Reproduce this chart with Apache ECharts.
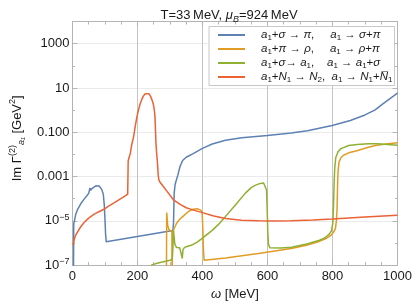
<!DOCTYPE html>
<html><head><meta charset="utf-8">
<script src="https://cdn.jsdelivr.net/npm/echarts@6/dist/echarts.min.js"></script>
<style>html,body{margin:0;padding:0;background:#fff}#c{width:415px;height:306px}</style>
</head><body><div id="c"></div>
<script>
// ---- data (omega [MeV], log10 of Im Gamma [GeV^2]) ----
const seriesNames = ['sigmaPi', 'rhoPi', 'a1Sigma', 'nucleon'];
const seriesColors = ['#5E81B5', '#E19C24', '#8FB032', '#EB6235'];
const blueData = [[3,-8],[4,-5.15],[10,-4.72],[16,-4.48],[26,-4.22],[36,-4.02],[45,-3.86],[50,-3.76],[54,-3.52],[56,-3.62],[62,-3.52],[72,-3.42],[82,-3.43],[90,-3.58],[95,-3.8],[98,-4.3],[100,-4.9],[102,-5.6],[104,-5.95],[106,-6.04],[309,-5.44],[311,-5.1],[313,-3.75],[316,-3.35],[324,-2.95],[331,-2.55],[339,-2.28],[350,-2.13],[370,-1.98],[400,-1.73],[430,-1.53],[471,-1.36],[521,-1.25],[600,-1.15],[673,-1.04],[723,-0.93],[799,-0.70],[855,-0.47],[900,-0.22],[930,0.0],[955,0.28],[980,0.55],[1000,0.77]];
const orangeData = [[289,-8],[290,-4.63],[293,-5.2],[297,-5.4],[302,-5.47],[306,-5.5],[306.5,-8],[307.5,-8],[308,-5.5],[312,-5.38],[320,-5.12],[330,-4.93],[340,-4.8],[355,-4.6],[370,-4.48],[385,-4.46],[395,-4.52],[399,-4.63],[401,-5.3],[403,-6.3],[405,-6.78],[471,-6.68],[572,-6.48],[673,-6.25],[720,-6.1],[754,-5.96],[780,-5.8],[794,-5.67],[803,-5.52],[809,-5.35],[812,-5.0],[814,-4.5],[815.5,-3.5],[817,-2.8],[820,-2.35],[826,-2.15],[834,-2.04],[850,-1.93],[875,-1.84],[905,-1.7],[935,-1.59],[965,-1.53],[1000,-1.48]];
const greenData = [[238,-8],[243,-7.0],[260,-6.92],[280,-6.85],[300,-6.78],[307,-6.73],[309,-6.2],[310.5,-5.4],[312,-5.6],[315,-6.05],[320,-6.2],[330,-6.22],[336,-6.25],[338,-6.7],[340,-6.3],[345,-6.2],[355,-6.15],[370,-6.08],[385,-5.95],[400,-5.78],[431,-5.42],[450,-5.15],[471,-4.8],[502,-4.27],[532,-3.75],[550,-3.5],[562,-3.4],[578,-3.31],[588,-3.29],[594,-3.36],[597,-3.6],[599,-4.4],[601,-5.5],[603,-6.05],[607,-6.22],[613,-6.26],[640,-6.23],[674,-6.19],[724,-6.04],[760,-5.88],[775,-5.79],[790,-5.6],[797,-5.45],[801,-5.1],[803,-4.4],[805,-3.3],[807,-2.6],[810,-2.15],[817,-1.88],[826,-1.74],[850,-1.6],[876,-1.55],[910,-1.52],[937,-1.52],[970,-1.55],[1000,-1.59]];
const redData = [[2,-6.1],[5,-5.85],[10,-5.65],[16,-5.5],[25,-5.28],[36,-5.08],[50,-4.88],[67,-4.7],[80,-4.6],[97,-4.48],[110,-4.35],[128,-4.19],[145,-4.03],[160,-3.9],[170,-3.8],[171.5,-2.3],[174,-2.15],[178,-1.96],[183,-1.52],[188,-1.22],[193,-0.75],[198,-0.33],[203,0.0],[208,0.26],[213,0.47],[218,0.63],[224,0.74],[229,0.78],[235,0.74],[240,0.63],[245,0.45],[249,0.26],[252,0.0],[254,-0.33],[255.5,-0.9],[257,-1.52],[259,-1.95],[261,-2.26],[264,-2.95],[266,-3.15],[269,-3.25],[279,-3.44],[290,-3.65],[310,-4.04],[330,-4.25],[350,-4.41],[375,-4.53],[400,-4.63],[435,-4.78],[471,-4.9],[520,-4.97],[572,-5.0],[620,-5.01],[673,-5.0],[740,-4.96],[799,-4.92],[900,-4.83],[1000,-4.75]];
const legendLabels = [
  '{sp| }{i|a}{s|1}+{i|σ} → {i|π},     {i|a}{s|1} → {i|σ}+{i|π}',
  '{sp| }{i|a}{s|1}+{i|π} → {i|ρ},     {i|a}{s|1} → {i|ρ}+{i|π}',
  '{sp| }{i|a}{s|1}+{i|σ}→ {i|a}{s|1},    {i|a}{s|1} → {i|a}{s|1}+{i|σ}',
  '{sp| }{i|a}{s|1}+{i|N}{s|1} → {i|N}{s|2},  {i|a}{s|1} → {i|N}{s|1}+{i|N\u0305}{s|1}'
];
const yTickExponents = [3, 1, -1, -3, -5, -7];
const yTickLabels = ['1000', '10', '0.100', '0.001', '10{sup|−5}', '10{sup|−7}'];
const xTickInterval = 200;

const FONT = "'Liberation Sans', Arial, sans-serif";
const frameColor = '#b4b4b4';
const textColor = '#1a1a1a';
const allData = [blueData, orangeData, greenData, redData];

const chart = echarts.init(document.getElementById('c'), null, {renderer: 'canvas'});
const yCommon = {type: 'log', logBase: 10, min: 1e-7, max: 1e4, gridIndex: 0};
const xCommon = {type: 'value', min: 0, max: 1000, interval: xTickInterval, gridIndex: 0};
chart.setOption({
  animation: false,
  backgroundColor: '#fff',
  textStyle: {fontFamily: FONT},
  title: {
    text: 'T=33\u2009MeV, {i|μ}{sub|B}=924\u2009MeV',
    left: 224, top: 2, textAlign: 'center',
    textStyle: {fontSize: 13, fontWeight: 'normal', color: textColor, fontFamily: FONT, lineHeight: 17,
      rich: {i: {fontStyle: 'italic', fontSize: 13, fontFamily: FONT, color: textColor},
             sub: {fontStyle: 'italic', fontSize: 9, verticalAlign: 'bottom', lineHeight: 10, fontFamily: FONT, color: textColor}}}
  },
  grid: {left: 68, right: 17.5, top: 21.5, bottom: 35.5, containLabel: false},
  legend: {
    orient: 'vertical', left: 209, top: 26.5,
    data: seriesNames, icon: 'rect', itemWidth: 27, itemHeight: 2, itemGap: 0,
    padding: [1.5, 2, 1.5, 9],
    backgroundColor: '#fff', borderColor: '#c8c8c8', borderWidth: 1, borderRadius: 0,
    formatter: name => legendLabels[seriesNames.indexOf(name)],
    textStyle: {fontSize: 11.5, color: textColor, fontFamily: FONT, lineHeight: 14,
      rich: {
        sp: {width: 11, fontSize: 11.5},
        i: {fontStyle: 'italic', fontSize: 11.5, fontFamily: FONT, color: textColor},
        s: {fontSize: 8, verticalAlign: 'bottom', lineHeight: 9, fontFamily: FONT, color: textColor}
      }}
  },
  xAxis: [
    Object.assign({}, xCommon, {
      position: 'bottom',
      name: '{i|ω} [MeV]', nameLocation: 'middle', nameGap: 19,
      nameTextStyle: {fontSize: 13, color: textColor, fontFamily: FONT,
        rich: {i: {fontStyle: 'italic', fontSize: 13, fontFamily: FONT, color: textColor}}},
      axisLine: {show: true, lineStyle: {color: frameColor, width: 1}},
      axisTick: {show: true, inside: true, length: 5, lineStyle: {color: frameColor}},
      minorTick: {show: true, splitNumber: 4, length: 3, lineStyle: {color: frameColor}},
      splitLine: {show: true, lineStyle: {color: '#c4c4c4', width: 1}},
      axisLabel: {fontSize: 13, color: textColor, margin: 5, fontFamily: FONT, formatter: v => String(v)}
    }),
    Object.assign({}, xCommon, {
      position: 'top',
      axisLine: {show: true, lineStyle: {color: frameColor, width: 1}},
      axisTick: {show: true, inside: true, length: 5, lineStyle: {color: frameColor}},
      minorTick: {show: true, splitNumber: 4, length: 3, lineStyle: {color: frameColor}},
      splitLine: {show: false}, axisLabel: {show: false}
    })
  ],
  yAxis: [
    Object.assign({}, yCommon, {
      position: 'left', interval: 2,
      name: 'Im Γ{sup|(2)}{sub|a₁} [GeV{sup|2}]', nameLocation: 'middle', nameRotate: 90, nameGap: 45,
      nameTextStyle: {fontSize: 13, color: textColor, fontFamily: FONT, lineHeight: 18, padding: [0, 0, 0, 10],
        rich: {
          sup: {fontSize: 9, verticalAlign: 'top', lineHeight: 11, fontFamily: FONT, color: textColor},
          sub: {fontSize: 9, fontStyle: 'italic', verticalAlign: 'bottom', lineHeight: 10, fontFamily: FONT, color: textColor}
        }},
      axisLine: {show: true, lineStyle: {color: frameColor, width: 1}},
      axisTick: {show: true, inside: true, length: 5, lineStyle: {color: frameColor}},
      splitLine: {show: true, lineStyle: {color: '#ebebeb', width: 1}},
      axisLabel: {
        fontSize: 13, color: textColor, margin: 3, fontFamily: FONT, lineHeight: 16,
        formatter: v => { const e = Math.round(Math.log10(v)); const k = yTickExponents.indexOf(e); return k >= 0 ? yTickLabels[k] : ''; },
        rich: {sup: {fontSize: 9, verticalAlign: 'top', lineHeight: 11, fontFamily: FONT, color: textColor}}
      }
    }),
    Object.assign({}, yCommon, {
      position: 'left', interval: 1,
      axisLine: {show: false}, axisLabel: {show: false}, splitLine: {show: false},
      axisTick: {show: true, inside: true, length: 2.5, lineStyle: {color: frameColor}}
    }),
    Object.assign({}, yCommon, {
      position: 'right', interval: 2,
      axisLine: {show: true, lineStyle: {color: frameColor, width: 1}}, axisLabel: {show: false}, splitLine: {show: false},
      axisTick: {show: true, inside: true, length: 5, lineStyle: {color: frameColor}}
    }),
    Object.assign({}, yCommon, {
      position: 'right', interval: 1,
      axisLine: {show: false}, axisLabel: {show: false}, splitLine: {show: false},
      axisTick: {show: true, inside: true, length: 2.5, lineStyle: {color: frameColor}}
    })
  ],
  series: seriesNames.map((name, k) => ({
    name: name, type: 'line', xAxisIndex: 0, yAxisIndex: 0,
    data: allData[k].map(p => [p[0], Math.pow(10, p[1])]),
    showSymbol: false, symbol: 'none', clip: true, smooth: false,
    lineStyle: {color: seriesColors[k], width: 1.5},
    itemStyle: {color: seriesColors[k]},
    z: 2 + k
  }))
});
</script></body></html>
